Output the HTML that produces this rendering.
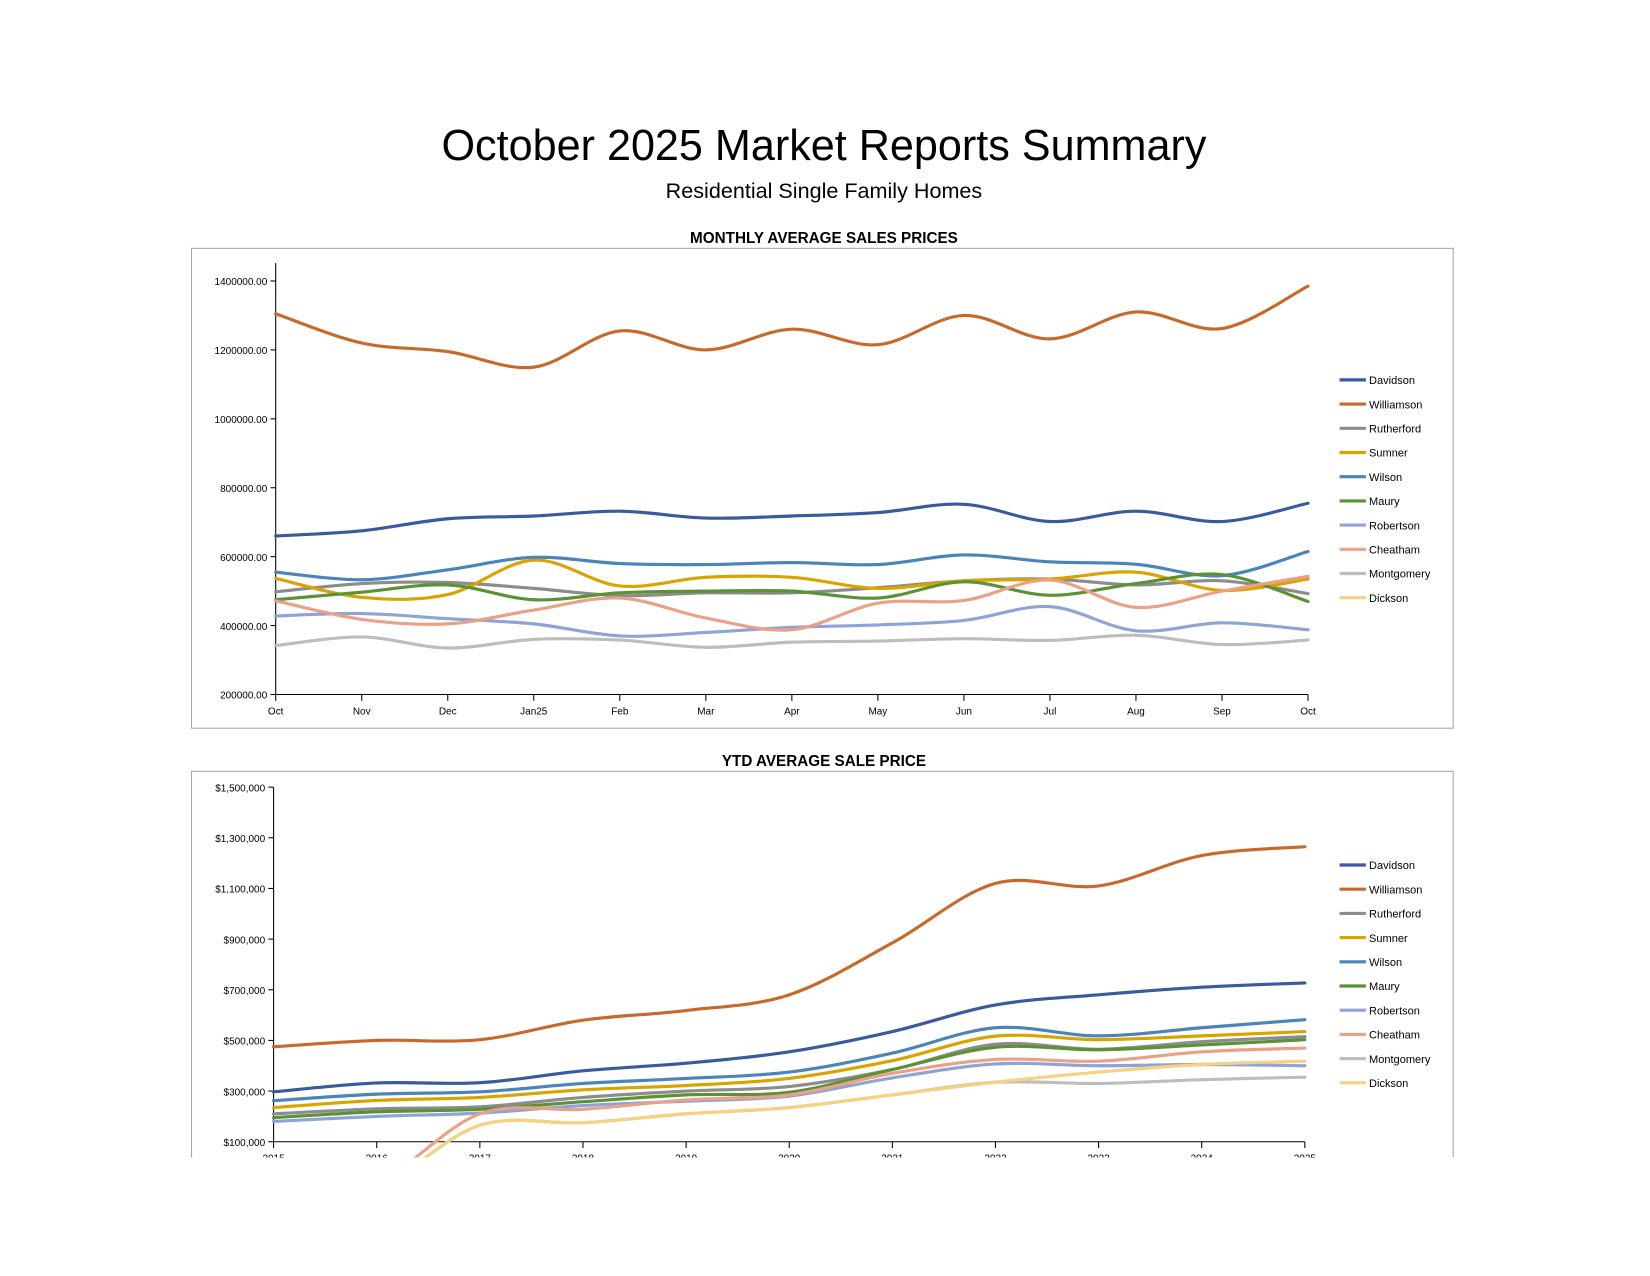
<!DOCTYPE html>
<html><head><meta charset="utf-8">
<style>
html,body{margin:0;padding:0;background:#fff;}
body{width:1650px;height:1276px;overflow:hidden;position:relative;font-family:"Liberation Sans",sans-serif;}
#wrap{position:absolute;left:0;top:0;width:1568px;height:1212px;transform:scale(1.05230);transform-origin:0 0;}
.t{position:absolute;left:0;width:1566px;text-align:center;color:#000;}
</style></head>
<body>
<div id="wrap">
<div class="t" style="top:115px;font-size:41px;">October 2025 Market Reports Summary</div>
<div class="t" style="top:170px;font-size:20.5px;">Residential Single Family Homes</div>
<svg id="svg" width="1568" height="1212" style="position:absolute;left:0;top:0">
<defs><clipPath id="pc"><rect x="0" y="0" width="1568" height="1100"/></clipPath>
<clipPath id="c1"><rect x="182" y="237" width="1200" height="455"/></clipPath>
<clipPath id="c2"><rect x="182" y="734" width="1200" height="366"/></clipPath></defs>
<g id="root" clip-path="url(#pc)"></g>
</svg>
</div>
<script>
const counties=["Davidson","Williamson","Rutherford","Sumner","Wilson","Maury","Robertson","Cheatham","Montgomery","Dickson"];
const colors=["#3a5a9c","#c8692c","#8c8c8c","#d9a400","#4a84b8","#5a9234","#8ea3d6","#eba088","#bdbdbd","#f7d27e"];
const monthLabels=["Oct","Nov","Dec","Jan25","Feb","Mar","Apr","May","Jun","Jul","Aug","Sep","Oct"];
const mDavidson=[660,675,710,718,732,712,718,728,752,702,732,702,755];
const mWilliamson=[1305,1220,1195,1150,1255,1200,1260,1215,1300,1232,1310,1262,1385];
const mRutherford=[498,522,525,508,487,495,495,510,530,535,518,530,493];
const mSumner=[537,482,490,590,515,540,540,508,530,535,555,502,535];
const mWilson=[555,533,562,598,580,577,583,577,605,585,578,545,615];
const mMaury=[475,497,518,475,495,500,500,480,527,488,522,548,470];
const mRobertson=[428,435,420,405,370,380,395,402,415,455,385,408,388];
const mCheatham=[472,418,405,445,480,422,388,465,473,532,453,500,543];
const mMontgomery=[342,367,335,360,358,337,352,355,362,357,372,345,358];
const mDickson=[null,null,null,null,null,null,null,null,null,null,null,null,null];
const monthTicks=[200000,400000,600000,800000,1000000,1200000,1400000];
const yearLabels=["2015","2016","2017","2018","2019","2020","2021","2022","2023","2024","2025"];
const yDavidson=[297,332,333,380,410,455,535,640,680,710,727];
const yWilliamson=[475,500,503,580,618,680,885,1120,1110,1230,1265];
const yRutherford=[210,230,238,275,300,318,385,485,465,495,515];
const ySumner=[235,263,275,305,322,350,420,517,503,518,535];
const yWilson=[262,288,297,330,350,375,450,550,518,550,582];
const yMaury=[195,218,228,258,285,295,385,473,463,482,503];
const yRobertson=[180,200,213,243,260,280,352,407,400,405,400];
const yCheatham=[-120,-60,210,228,265,285,370,425,418,455,470];
const yMontgomery=[-140,-80,165,175,210,235,285,335,330,345,355];
const yDickson=[-140,-80,165,175,210,235,285,335,375,405,418];
const yearTicks=[100000,300000,500000,700000,900000,1100000,1300000,1500000];

const NS="http://www.w3.org/2000/svg";
const root=document.getElementById('root');
function el(tag,attrs,parent){const e=document.createElementNS(NS,tag);for(const k in attrs)e.setAttribute(k,attrs[k]);(parent||root).appendChild(e);return e;}
function txt(s,attrs,parent){const e=el('text',attrs,parent);e.textContent=s;return e;}
function smooth(pts){
  let d="";let seg=[];const segs=[];
  pts.forEach(p=>{if(p)seg.push(p);else{if(seg.length)segs.push(seg);seg=[];}});if(seg.length)segs.push(seg);
  segs.forEach(s=>{d+="M"+s[0][0]+","+s[0][1];
    for(let i=0;i<s.length-1;i++){const p0=s[i-1]||s[i],p1=s[i],p2=s[i+1],p3=s[i+2]||s[i+1];
      const c1=[p1[0]+(p2[0]-p0[0])/6,p1[1]+(p2[1]-p0[1])/6],c2=[p2[0]-(p3[0]-p1[0])/6,p2[1]-(p3[1]-p1[1])/6];
      d+=" C"+c1+" "+c2+" "+p2;}});
  return d;}
function chart(cfg){
  const g=el('g',{});
  
  
  const fr=el('rect',{x:182,y:cfg.fy,width:1199,height:cfg.fh,fill:'none',stroke:'#a6a6a6','stroke-width':1},g);
  
  const tt=txt(cfg.title,{x:783,y:cfg.fy-5,'text-anchor':'middle','font-size':14.5,'font-weight':'bold'},g);
  
  const n=cfg.labels.length;
  const X=i=>cfg.x0+(cfg.x1-cfg.x0)*i/(n-1);
  const Y=v=>cfg.y0-(v-cfg.vmin)/(cfg.vmax-cfg.vmin)*(cfg.y0-cfg.y1);
  el('line',{x1:cfg.x0,y1:cfg.axTop,x2:cfg.x0,y2:cfg.y0,stroke:'#000'},g);
  el('line',{x1:cfg.x0,y1:cfg.y0,x2:cfg.x1,y2:cfg.y0,stroke:'#000'},g);
  cfg.ticks.forEach(t=>{const y=Y(t);el('line',{x1:cfg.x0-5,y1:y,x2:cfg.x0,y2:y,stroke:'#000'},g);
    const l=txt(cfg.fmt(t),{x:cfg.x0-8,y:y+4,'text-anchor':'end','font-size':9.5},g);
    });
  cfg.labels.forEach((s,i)=>{el('line',{x1:X(i),y1:cfg.y0,x2:X(i),y2:cfg.y0+6,stroke:'#000'},g);
    const l=txt(s,{x:X(i),y:cfg.y0+19,'text-anchor':'middle','font-size':9.5},g);
    });
  const lg=el('g',{'clip-path':cfg.clip},g);
  cfg.series.forEach((arr,k)=>{
    const pts=arr.map((v,i)=>v==null?null:[X(i),Y(v*1000)]);
    const p=el('path',{d:smooth(pts),fill:'none',stroke:colors[k],'stroke-width':3,'stroke-linecap':'round'},lg);
    
    
  });
  counties.forEach((c,k)=>{const y=cfg.ly+23*k;
    const e=el('g',{},g);
    
    
    el('line',{x1:1273,y1:y,x2:1298,y2:y,stroke:colors[k],'stroke-width':3},e);
    txt(c,{x:1301,y:y+4,'font-size':10.5},e);});
}
chart({name:'monthly-average-sales-chart',title:'MONTHLY AVERAGE SALES PRICES',fy:236,fh:456,x0:262,x1:1243,y0:660,y1:267,vmin:200000,vmax:1400000,axTop:250,
  labels:monthLabels,ticks:monthTicks,fmt:t=>t.toFixed(2),clip:'url(#c1)',ly:361,
  series:[mDavidson,mWilliamson,mRutherford,mSumner,mWilson,mMaury,mRobertson,mCheatham,mMontgomery,mDickson]});
chart({name:'ytd-average-sale-chart',title:'YTD AVERAGE SALE PRICE',fy:733,fh:420,x0:260,x1:1240,y0:1085,y1:748,vmin:100000,vmax:1500000,axTop:748,
  labels:yearLabels,ticks:yearTicks,fmt:t=>'$'+t.toLocaleString('en-US'),clip:'url(#c2)',ly:822,
  series:[yDavidson,yWilliamson,yRutherford,ySumner,yWilson,yMaury,yRobertson,yCheatham,yMontgomery,yDickson]});
</script>
</body></html>
